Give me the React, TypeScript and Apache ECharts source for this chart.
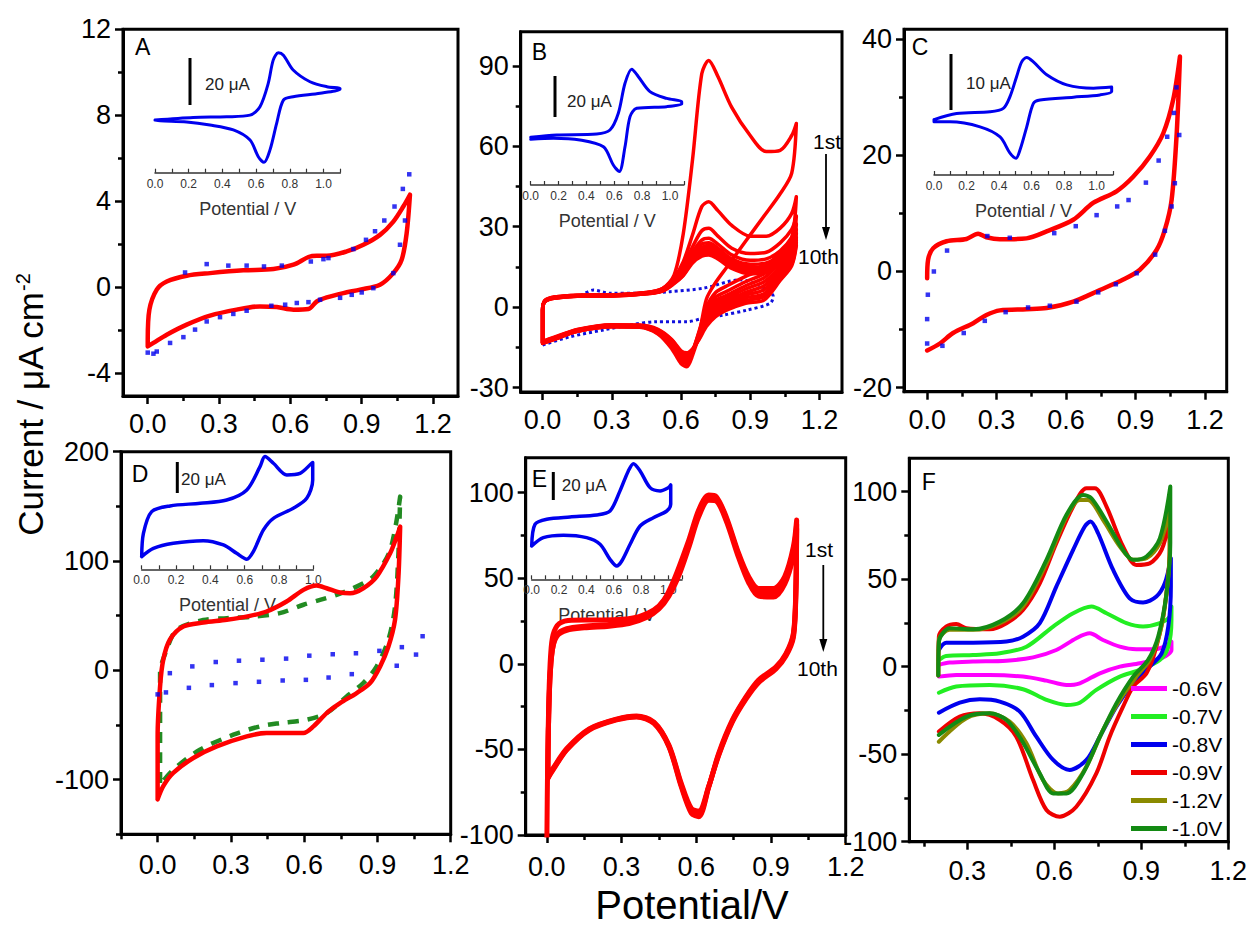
import React, { useEffect, useRef } from "react";
import * as echarts from "echarts";

const FONT = '"Liberation Sans", Arial, Helvetica, sans-serif';

// ---------------- tick values ----------------
const X_TICKS = [0, 0.3, 0.6, 0.9, 1.2];
const X_MINOR = [0.15, 0.45, 0.75, 1.05];
const X_MINOR_D = [-0.15, 0.15, 0.45, 0.75, 1.05];
const X_TICKS_F = [0.3, 0.6, 0.9, 1.2];
const Y_TICKS_A = [-4, 0, 4, 8, 12];
const Y_MINOR_A = [-2, 2, 6, 10];
const Y_TICKS_B = [-30, 0, 30, 60, 90];
const Y_MINOR_B = [-15, 15, 45, 75];
const Y_TICKS_C = [-20, 0, 20, 40];
const Y_MINOR_C = [-10, 10, 30];
const Y_TICKS_D = [-100, 0, 100, 200];
const Y_MINOR_D = [-150, -50, 50, 150];
const Y_TICKS_EF = [-100, -50, 0, 50, 100];
const Y_MINOR_EF = [-75, -25, 25, 75];
const INSET_LABELS = [0, 0.2, 0.4, 0.6, 0.8, 1.0];
const INSET_TICKS = [0, 0.1, 0.2, 0.3, 0.4, 0.5, 0.6, 0.7, 0.8, 0.9, 1.0, 1.1];
const INSET_TICKS_D = [0, 0.1, 0.2, 0.3, 0.4, 0.5, 0.6, 0.7, 0.8, 0.9, 1.0];

// ---------------- panel A ----------------
const A_RED = [[0,-2.45],[0.007,-1.05],[0.038,-0.12],[0.08,0.26],[0.164,0.53],[0.262,0.65],[0.402,0.78],[0.529,0.84],[0.613,1.04],[0.676,1.4],[0.711,1.46],[0.753,1.46],[0.837,1.66],[0.907,1.97],[0.977,2.43],[1.033,3.05],[1.075,3.75],[1.103,4.3],[1.089,2.5],[1.068,1.27],[1.033,0.65],[0.977,0.11],[0.893,-0.12],[0.823,-0.28],[0.753,-0.48],[0.711,-0.67],[0.676,-1.02],[0.613,-1.05],[0.543,-0.93],[0.472,-0.9],[0.374,-1.05],[0.262,-1.33],[0.164,-1.75],[0.08,-2.22],[0.024,-2.6],[0,-2.76],[0,-2.45]];
const A_BLUE = [[0,-3.05],[0.024,-3.1],[0.038,-3.0],[0.094,-2.6],[0.15,-2.33],[0.199,-1.98],[0.248,-1.6],[0.304,-1.4],[0.36,-1.25],[0.416,-1.1],[0.52,-0.87],[0.578,-0.82],[0.627,-0.74],[0.676,-0.7],[0.725,-0.59],[0.809,-0.5],[0.858,-0.36],[0.9,-0.25],[0.949,-0.05],[1.033,0.65],[1.061,1.97],[1.082,3.1],[0.157,0.68],[0.248,1.07],[0.339,1.0],[0.416,1.0],[0.489,0.96],[0.564,1.0],[0.686,1.19],[0.739,1.3],[0.76,1.35],[0.865,1.77],[0.918,2.2],[0.956,2.6],[0.995,3.1],[1.038,3.75],[1.073,4.57],[1.1,5.25]];
const INSET_A = [[0,22.4],[0.227,23.5],[0.425,23.8],[0.564,24.5],[0.623,28.1],[0.672,38],[0.702,48],[0.732,51],[0.762,50],[0.82,43.7],[0.92,38.7],[1.02,36.6],[1.098,35.9],[1.098,35.5],[0.98,33.8],[0.82,32.3],[0.762,30.9],[0.722,21],[0.682,9.6],[0.647,4.4],[0.613,6.8],[0.564,13.9],[0.465,18.2],[0.326,20.3],[0.188,21.6],[0.03,22.1],[0,22.4]];

// ---------------- panel B (10 cycles) ----------------
const B_FWD_V = [0, 0.01, 0.05, 0.15, 0.3, 0.45, 0.52, 0.57, 0.61, 0.65, 0.69, 0.72, 0.76, 0.82, 0.9, 0.97, 1.03, 1.08, 1.1];
const B_FWD_I = [
  [-1, 2.5, 3.8, 4.5, 4.6, 5.5, 7, 12, 27.5, 55, 87, 92, 86, 74.5, 64, 58, 58.5, 64, 68.5],
  [-1, 2.5, 3.8, 4.5, 4.6, 5.5, 7, 11, 17, 27, 37.5, 39.3, 36, 30.5, 26.5, 26.5, 29.5, 35, 41.2],
  [-1, 2.3, 3.6, 4.4, 4.5, 5.4, 6.8, 10.5, 15.5, 22.5, 28.5, 29.4, 26.5, 22, 20, 20.5, 24, 29, 34],
  [-1, 2.3, 3.6, 4.4, 4.5, 5.3, 6.6, 10, 14.5, 20.5, 25, 25.7, 23.5, 19.5, 17.5, 18, 21, 26, 31],
  [-1, 2.2, 3.5, 4.3, 4.4, 5.2, 6.5, 9.8, 14, 19.5, 23.5, 24, 22, 18, 16, 16.5, 19.5, 24, 29],
  [-1, 2.2, 3.5, 4.3, 4.4, 5.2, 6.4, 9.6, 13.5, 18.5, 22.3, 23, 21, 17, 15, 15.5, 18.5, 23, 27.5],
  [-1, 2.1, 3.4, 4.2, 4.3, 5.1, 6.3, 9.4, 13, 18, 21.3, 22, 20, 16, 14, 14.5, 17.5, 22, 26],
  [-1, 2.1, 3.4, 4.2, 4.3, 5.1, 6.2, 9.2, 12.5, 17.5, 20.5, 21, 19, 15.5, 13.5, 14, 17, 21, 25],
  [-1, 2, 3.3, 4.1, 4.2, 5, 6.1, 9, 12, 17, 19.8, 20.2, 18.5, 15, 13, 13.5, 16.5, 20.5, 24],
  [-1, 2, 3.3, 4.1, 4.2, 5, 6, 8.8, 11.8, 16.5, 19, 19.5, 18, 14.5, 12.5, 13, 16, 20, 23],
];
const B_REV_V = [1.1, 1.08, 1.03, 0.96, 0.88, 0.8, 0.75, 0.71, 0.68, 0.65, 0.625, 0.6, 0.56, 0.5, 0.42, 0.3, 0.15, 0.05, 0];
const B_REV_I = [
  [68.5, 50, 42.3, 34, 24.6, 15.1, 9.2, 3, -9.5, -18, -22.2, -21, -15.5, -10, -7.5, -7.3, -9, -12, -13.5],
  [41.2, 26, 20.5, 14.5, 11.5, 8, 5.5, 0, -8.5, -16.5, -21, -20, -15, -9.8, -7.4, -7.3, -9, -12, -13.5],
  [34, 22, 18, 12.5, 9.5, 6, 3.8, -1.2, -9, -16.5, -20.5, -19.5, -14.5, -9.6, -7.3, -7.2, -9, -12, -13.4],
  [31, 20, 16.5, 11, 8, 4.5, 2.5, -2.2, -9.5, -16.5, -20, -19, -14, -9.4, -7.2, -7.1, -8.9, -11.8, -13.3],
  [29, 19, 15, 9.5, 6.8, 3.5, 1.5, -3, -10, -16.5, -19.5, -18.5, -13.6, -9.2, -7.1, -7, -8.8, -11.7, -13.2],
  [27.5, 18, 14, 8, 5.5, 2.5, 0.5, -3.8, -10.3, -16.3, -19, -18, -13.2, -9, -7, -6.9, -8.7, -11.6, -13.1],
  [26, 17, 13, 6.5, 4.5, 1.5, -0.5, -4.6, -10.6, -16.1, -18.5, -17.5, -12.8, -8.8, -6.9, -6.8, -8.6, -11.5, -13],
  [25, 16.5, 12, 5, 3.5, 0.5, -1.5, -5.4, -11, -16, -18, -17, -12.5, -8.6, -6.8, -6.7, -8.5, -11.4, -12.9],
  [24, 16, 11, 4, 2.5, -0.3, -2.5, -6.2, -11.4, -15.8, -17.6, -16.6, -12.2, -8.4, -6.7, -6.6, -8.4, -11.3, -12.8],
  [23, 15.5, 10, 2.7, 1.5, -1, -3.5, -7.2, -11.8, -15.5, -17, -16.2, -12, -8.2, -6.6, -6.5, -8.3, -11.2, -12.7],
];
const B_BLUE = [[0,-14.1],[0.119,-11],[0.263,-8.5],[0.379,-6.6],[0.494,-5.4],[0.625,-5.4],[0.697,-4.1],[0.784,-2.9],[0.885,-1.1],[0.986,1.4],[1.0,4],[0.856,10.2],[0.697,7.1],[0.552,5.8],[0.408,5.2],[0.292,5.2],[0.22,6.4],[0.169,4.5]];
const INSET_B = [[0,23.1],[0.187,24.2],[0.474,24.7],[0.569,26.6],[0.629,34.7],[0.677,49.2],[0.725,56],[0.773,52.4],[0.856,45.2],[0.976,41.9],[1.084,40.3],[1.084,39.2],[0.976,37.9],[0.761,37.1],[0.713,33.1],[0.677,18.5],[0.636,6.5],[0.593,9.7],[0.522,18.5],[0.354,21.8],[0.163,22.6],[0,22.1]];

// ---------------- panel C ----------------
const C_RED = [[0,-1.15],[0.004,2],[0.026,4],[0.084,5.2],[0.17,5.6],[0.22,6.5],[0.256,5.9],[0.314,5.55],[0.429,5.7],[0.516,6.9],[0.631,8.9],[0.717,11.8],[0.818,13.8],[0.89,16.3],[0.962,19.8],[1.02,23.8],[1.063,29.6],[1.092,37],[1.078,23.8],[1.056,12.3],[1.027,7.2],[0.991,3.7],[0.919,0.3],[0.847,-1.4],[0.746,-3.2],[0.631,-5.2],[0.516,-6.3],[0.429,-6.5],[0.314,-6.7],[0.256,-7.5],[0.199,-8.9],[0.112,-10.6],[0.055,-12.4],[0,-13.6]];
const C_BLUE = [[0,-12.4],[0,-8.2],[0.003,-4],[0.029,0],[0.086,3.6],[0.26,6.1],[0.357,5.8],[0.549,6.6],[0.642,7.8],[0.732,9.7],[0.821,11.2],[0.87,12.3],[0.945,15.3],[1.0,19.1],[1.037,23.2],[1.066,27.3],[1.077,31.7],[1.089,23.5],[1.07,15.2],[1.056,11.2],[1.027,7],[0.985,2.9],[0.905,-0.3],[0.815,-2.2],[0.739,-3.6],[0.645,-5.2],[0.53,-5.9],[0.436,-6.2],[0.339,-7],[0.249,-8.5],[0.158,-10.6],[0.066,-12.8]];
const INSET_C = [[0,9.9],[0.139,11],[0.344,11.3],[0.426,11.9],[0.467,14],[0.508,17.6],[0.539,20.2],[0.57,21],[0.611,20.2],[0.693,17.9],[0.816,16.1],[0.98,15.5],[1.092,15.7],[1.092,14.9],[1.02,14.3],[0.857,13.9],[0.652,13.4],[0.611,12.8],[0.57,8.6],[0.529,4.5],[0.504,3],[0.467,3.9],[0.406,6.8],[0.283,8.6],[0.098,9.5],[0,9.5],[0,9.9]];

// ---------------- panel D ----------------
const D_RED = [[0,-118],[0,-60],[0.01,-14.7],[0.023,9.6],[0.05,28],[0.105,40],[0.187,43.7],[0.283,46.2],[0.378,49.8],[0.446,53.8],[0.528,63],[0.597,73.6],[0.651,77.6],[0.692,75.1],[0.747,71.2],[0.788,70.5],[0.842,75.1],[0.897,85.8],[0.952,107],[0.979,122.3],[0.993,131.5],[0.986,85.8],[0.972,46.2],[0.945,21.8],[0.911,3.6],[0.87,-11.6],[0.815,-20.8],[0.747,-30],[0.692,-39.1],[0.638,-51.3],[0.597,-57.4],[0.542,-57.4],[0.446,-57.4],[0.365,-60.4],[0.242,-69.6],[0.146,-80.2],[0.064,-93.9],[0.023,-106],[0,-118]];
const D_GREEN = [[0.01,-103],[0.01,-2.6],[0.037,18.8],[0.078,37],[0.187,46],[0.283,47.7],[0.392,49.2],[0.5,52.3],[0.597,60],[0.665,64.4],[0.733,69],[0.801,75.1],[0.883,85.8],[0.952,110],[0.993,158.9],[0.986,107],[0.972,58.3],[0.945,28],[0.897,3.6],[0.842,-11.6],[0.774,-23.9],[0.692,-39.1],[0.61,-45.2],[0.5,-48.3],[0.419,-51.3],[0.31,-58.9],[0.173,-72.6],[0.064,-90.9],[0.016,-103]];
const D_BLUE = [[0,-22],[0.05,-2.6],[0.142,3.6],[0.238,7.6],[0.333,8.8],[0.429,9.7],[0.526,10.7],[0.621,13.4],[0.717,14.7],[0.812,15.6],[0.908,17.8],[1.0,21.2],[1.085,31.2],[1.058,14.4],[0.979,4.2],[0.795,-3.5],[0.7,-6.6],[0.607,-8.7],[0.512,-9.3],[0.415,-10.5],[0.319,-11.7],[0.222,-13.5],[0.128,-16],[0.034,-20.2]];
const INSET_D = [[0,8.2],[0.01,23.2],[0.058,37.2],[0.165,40.9],[0.34,42.6],[0.495,44.7],[0.612,51.2],[0.689,66.2],[0.718,72.7],[0.767,68.4],[0.845,60.9],[0.922,61.9],[0.99,68.4],[0.996,68.8],[0.996,57.6],[0.961,45.8],[0.883,39.4],[0.767,32.9],[0.709,25.4],[0.65,11.4],[0.612,6.5],[0.553,10.3],[0.476,15.7],[0.359,18.5],[0.184,16.8],[0.068,13.5],[0,8.2]];

// ---------------- panel E ----------------
const E_CYCLE1 = [[0,-104],[0.003,-60],[0.008,-20],[0.015,5],[0.025,17],[0.05,23.5],[0.1,25.5],[0.2,25.6],[0.3,26],[0.37,27.6],[0.43,31.5],[0.47,37.3],[0.51,49],[0.57,72.3],[0.61,90],[0.65,98.6],[0.68,97.7],[0.72,86],[0.77,64.6],[0.81,51],[0.85,44],[0.91,44],[0.955,51],[0.99,68.5],[1.003,84],[1.0,45],[0.99,18],[0.96,6],[0.92,-1.7],[0.85,-9.5],[0.8,-19.2],[0.745,-32.8],[0.69,-52.3],[0.65,-72],[0.61,-89.3],[0.58,-87.3],[0.54,-72],[0.49,-48.4],[0.43,-34.8],[0.36,-31],[0.28,-32.8],[0.17,-38.7],[0.08,-50.3],[0.025,-62],[0.004,-67]];
const E_CYCLE5 = [[0.004,-66.5],[0.006,-40],[0.012,-10],[0.022,8],[0.04,17],[0.08,20.5],[0.15,22],[0.25,23],[0.33,24.5],[0.4,28],[0.45,33.5],[0.49,41],[0.53,53],[0.57,70],[0.61,88],[0.65,97],[0.68,96.5],[0.72,85],[0.77,63.5],[0.81,49.5],[0.85,41.5],[0.91,41.5],[0.955,49],[0.99,66],[1.003,81.5],[1.0,43],[0.99,16.8],[0.96,5.2],[0.92,-2.3],[0.85,-10.2],[0.8,-19.8],[0.745,-33.4],[0.69,-53],[0.65,-71.8],[0.61,-87.6],[0.58,-86],[0.54,-71],[0.49,-48],[0.43,-34.4],[0.36,-30.8],[0.28,-32.5],[0.17,-38.3],[0.08,-50],[0.025,-61.5],[0.004,-66.5]];
const E_CYCLE10 = [[0.004,-67],[0.006,-40],[0.012,-10],[0.022,8],[0.04,16],[0.08,19.5],[0.15,21],[0.25,22],[0.33,23.5],[0.4,27],[0.45,32],[0.49,39.5],[0.53,51.5],[0.57,68],[0.61,86],[0.65,95.5],[0.68,95],[0.72,83.5],[0.77,62],[0.81,47.5],[0.85,39.5],[0.91,39],[0.955,46.5],[0.99,63],[1.003,79],[1.0,41],[0.99,15.5],[0.96,4.5],[0.92,-3],[0.85,-11],[0.8,-20.5],[0.745,-34],[0.69,-53.5],[0.65,-71.5],[0.61,-86],[0.58,-84.5],[0.54,-70],[0.49,-47.5],[0.43,-34],[0.36,-30.5],[0.28,-32.3],[0.17,-38],[0.08,-49.5],[0.025,-61],[0.004,-66]];
const INSET_E = [[0,23.5],[0.024,38.8],[0.11,42.4],[0.28,44],[0.476,45.4],[0.573,48.2],[0.646,62.4],[0.707,76.5],[0.744,81.6],[0.793,76.5],[0.866,64.7],[0.939,62.4],[1.0,64.7],[1.017,66.6],[1.017,52.9],[0.988,48.2],[0.89,43.5],[0.793,37.6],[0.72,24.7],[0.659,12.9],[0.622,9.4],[0.573,14.1],[0.5,24.7],[0.402,29.4],[0.232,31.1],[0.085,29.4],[0,23.5]];

// ---------------- panel F ----------------
const F_NAMES = ["-0.6V", "-0.7V", "-0.8V", "-0.9V", "-1.2V", "-1.0V"];
const F_COLORS = ["#ff00ff", "#22ee22", "#0000ee", "#ee0000", "#8a8a00", "#138a13"];
const F_M06 = [[0.202,1],[0.239,2.3],[0.32,2.9],[0.435,3.4],[0.527,5.3],[0.607,9.5],[0.676,16.2],[0.722,19],[0.768,15.2],[0.826,11.4],[0.883,9.9],[0.941,9.9],[0.981,11.4],[1.004,14.3],[1.004,9.5],[0.975,5.3],[0.895,1.9],[0.826,0],[0.757,-3.8],[0.688,-9.5],[0.642,-10.5],[0.573,-8],[0.492,-5.7],[0.377,-4.8],[0.262,-4.8],[0.202,-5.7]];
const F_M07 = [[0.202,3.8],[0.227,6.1],[0.32,6.7],[0.412,7.6],[0.504,11.4],[0.596,22.9],[0.665,30.5],[0.728,34.3],[0.78,30.5],[0.849,24.8],[0.906,22.9],[0.964,24.8],[0.998,28.6],[1.004,34.3],[1.004,26.7],[0.993,11.4],[0.964,3.8],[0.895,-1.9],[0.826,-5.7],[0.745,-13.3],[0.688,-20.6],[0.642,-21.9],[0.573,-19],[0.492,-12.9],[0.377,-10.5],[0.262,-11.4],[0.202,-14.9]];
const F_M08 = [[0.202,9.5],[0.227,13.7],[0.32,13.7],[0.435,14.3],[0.492,17.1],[0.55,24.8],[0.607,45.7],[0.665,66.7],[0.705,80],[0.725,82.9],[0.751,76.2],[0.803,55.2],[0.86,39],[0.906,36.6],[0.952,40],[0.981,47.6],[1.002,61.9],[1.002,45.7],[0.993,22.9],[0.97,7.6],[0.929,0],[0.872,-9.5],[0.814,-22.9],[0.757,-40],[0.711,-53.3],[0.653,-59],[0.596,-53.3],[0.538,-40],[0.481,-25.7],[0.412,-20],[0.343,-18.7],[0.274,-20.6],[0.202,-26.3]];
const F_M09 = [[0.2,-5],[0.202,17.1],[0.227,22.9],[0.262,24.4],[0.297,21.9],[0.377,21.3],[0.435,24.8],[0.492,32.4],[0.55,47.6],[0.607,70.5],[0.665,91.4],[0.711,101.9],[0.74,101.9],[0.78,91.4],[0.837,68.6],[0.883,58.1],[0.929,59],[0.97,66.7],[0.998,83.8],[0.998,68.6],[0.981,34.3],[0.952,11.4],[0.918,-3.8],[0.872,-11.4],[0.837,-22.9],[0.791,-40],[0.745,-61],[0.676,-80],[0.619,-85.7],[0.573,-81.9],[0.527,-64.8],[0.469,-40],[0.412,-30.5],[0.343,-26.7],[0.274,-28.6],[0.202,-37.1]];
const F_M12 = [[0.2,-5],[0.202,15.2],[0.239,21],[0.32,21],[0.412,24.8],[0.492,34.3],[0.573,59],[0.642,85.7],[0.688,95.2],[0.716,95.2],[0.768,83.8],[0.826,68.6],[0.872,61],[0.918,61.9],[0.964,70.5],[0.998,89.5],[0.998,68.6],[0.987,41.9],[0.964,19],[0.929,3.8],[0.883,-5.7],[0.826,-19],[0.768,-36.2],[0.711,-57.1],[0.653,-70.5],[0.613,-72.4],[0.561,-64.8],[0.504,-43.8],[0.446,-31.4],[0.377,-26.7],[0.297,-29.5],[0.202,-42.9]];
const F_M10 = [[0.2,-5],[0.202,14.3],[0.239,21.9],[0.32,21.3],[0.412,25.7],[0.492,36.2],[0.573,61],[0.642,86.7],[0.699,98.1],[0.728,96.2],[0.78,82.9],[0.837,66.7],[0.872,61],[0.918,62.9],[0.964,73.3],[1.0,102.9],[1.0,70.5],[0.987,41.9],[0.958,17.1],[0.923,3.8],[0.872,-5.7],[0.814,-21],[0.757,-40],[0.699,-61],[0.642,-72.4],[0.596,-72.4],[0.55,-61],[0.487,-41.9],[0.435,-30.5],[0.377,-26.7],[0.297,-28.6],[0.202,-39]];
const F_SERIES = [F_M06, F_M07, F_M08, F_M09, F_M12, F_M10];

// ---------------- option builder ----------------
function buildOption() {
  const grids: any[] = [];
  const xAxes: any[] = [];
  const yAxes: any[] = [];
  const series: any[] = [];

  const fmt1 = (v: number) => v.toFixed(1);
  const fmt0 = (v: number) => String(v);

  function addPanel(p: any) {
    const g = grids.length;
    grids.push({
      left: p.left, top: p.top, width: p.right - p.left, height: p.bottom - p.top,
      show: true, borderColor: "#000", borderWidth: 3, backgroundColor: "transparent",
    });
    const xi = xAxes.length;
    xAxes.push({
      type: "value", gridIndex: g, position: "bottom", min: p.xMin, max: p.xMax,
      axisLine: { show: true, onZero: false, lineStyle: { color: "#000", width: 3 } },
      axisTick: { show: true, inside: false, length: 8, customValues: p.xMajor, lineStyle: { color: "#000", width: 2.5 } },
      axisLabel: { show: true, customValues: p.xMajor, formatter: fmt1, fontSize: 27, lineHeight: 22, fontFamily: FONT, color: "#000", margin: p.xMargin },
      splitLine: { show: false },
    });
    xAxes.push({
      type: "value", gridIndex: g, position: "bottom", min: p.xMin, max: p.xMax,
      axisLine: { show: false, onZero: false },
      axisTick: { show: true, inside: false, length: 5, customValues: p.xMinor, lineStyle: { color: "#000", width: 2.5 } },
      axisLabel: { show: false, customValues: p.xMinor },
      splitLine: { show: false },
    });
    const yi = yAxes.length;
    yAxes.push({
      type: "value", gridIndex: g, position: "left", min: p.yMin, max: p.yMax,
      axisLine: { show: true, onZero: false, lineStyle: { color: "#000", width: 3 } },
      axisTick: { show: true, inside: false, length: 8, customValues: p.yMajor, lineStyle: { color: "#000", width: 2.5 } },
      axisLabel: { show: true, customValues: p.yMajor, formatter: fmt0, fontSize: 27, lineHeight: 20, fontFamily: FONT, color: "#000", margin: 12 },
      splitLine: { show: false },
    });
    yAxes.push({
      type: "value", gridIndex: g, position: "left", min: p.yMin, max: p.yMax,
      axisLine: { show: false, onZero: false },
      axisTick: { show: true, inside: false, length: 5, customValues: p.yMinor, lineStyle: { color: "#000", width: 2.5 } },
      axisLabel: { show: false, customValues: p.yMinor },
      splitLine: { show: false },
    });
    return { xi, yi };
  }

  function addInset(p: any) {
    const g = grids.length;
    const h = p.yMax * p.pxPerUnit;
    grids.push({ left: p.x0, top: p.axisY - h, width: p.xMax * p.pxPerV, height: h, show: false });
    const xi = xAxes.length;
    xAxes.push({
      type: "value", gridIndex: g, position: "bottom", min: 0, max: p.xMax,
      axisLine: { show: true, onZero: false, lineStyle: { color: "#333", width: 1.5 } },
      axisTick: { show: true, inside: true, length: 4, customValues: p.ticks, lineStyle: { color: "#333", width: 1.2 } },
      axisLabel: { show: true, customValues: INSET_LABELS, formatter: fmt1, fontSize: 12, fontFamily: FONT, color: "#333", margin: 5 },
      name: "Potential / V", nameLocation: "middle", nameGap: 27,
      nameTextStyle: { fontSize: 18, fontFamily: FONT, color: "#333" },
      splitLine: { show: false },
    });
    const yi = yAxes.length;
    yAxes.push({ type: "value", gridIndex: g, show: false, min: 0, max: p.yMax });
    return { xi, yi };
  }

  const line = (name: string, data: any, ax: any, color: string, width: number, extra: any = {}) => ({
    type: "line", name, data, xAxisIndex: ax.xi, yAxisIndex: ax.yi,
    showSymbol: false, symbol: "none", smooth: 0.3, color,
    lineStyle: { color, width, cap: "round", join: "round", ...(extra.lineStyle || {}) },
    itemStyle: { color }, z: extra.z || 3, animation: false,
  });
  const dots = (name: string, data: any, ax: any) => ({
    type: "scatter", name, data, xAxisIndex: ax.xi, yAxisIndex: ax.yi,
    symbol: "rect", symbolSize: 4.5, itemStyle: { color: "#0000ee" }, z: 4, animation: false,
  });

  // ---- A
  const A = addPanel({ left: 123, top: 29.3, right: 458, bottom: 396, xMin: -0.104, xMax: 1.305, yMin: -5.07, yMax: 12,
    xMajor: X_TICKS, xMinor: X_MINOR, yMajor: Y_TICKS_A, yMinor: Y_MINOR_A, xMargin: 17 });
  series.push(line("A-red", A_RED, A, "#ff0000", 4.5));
  series.push(dots("A-blue", A_BLUE, A));
  const Ai = addInset({ x0: 155, axisY: 172.7, pxPerV: 168.5, pxPerUnit: 2.35, xMax: 1.1, yMax: 56, ticks: INSET_TICKS });
  series.push(line("A-inset", INSET_A, Ai, "#0000ee", 3));

  // ---- B
  const B = addPanel({ left: 520.7, top: 31.7, right: 842, bottom: 392, xMin: -0.095, xMax: 1.298, yMin: -31.6, yMax: 102.7,
    xMajor: X_TICKS, xMinor: X_MINOR, yMajor: Y_TICKS_B, yMinor: Y_MINOR_B, xMargin: 17 });
  series.push(line("B-blue", B_BLUE, B, "#1010dd", 3, { lineStyle: { type: [3, 3], cap: "butt" }, z: 2 }));
  B_FWD_I.forEach((fwd, c) => {
    const data = [[0, -13.3]]
      .concat(B_FWD_V.map((v, i) => [v, fwd[i]]))
      .concat(B_REV_V.map((v, i) => [v, B_REV_I[c][i]]));
    series.push(line("B-cycle" + (c + 1), data, B, "#ff0000", 3.5));
  });
  const Bi = addInset({ x0: 530.7, axisY: 185, pxPerV: 139.3, pxPerUnit: 2.067, xMax: 1.1, yMax: 60, ticks: INSET_TICKS });
  series.push(line("B-inset", INSET_B, Bi, "#0000ee", 3));

  // ---- C
  const C = addPanel({ left: 904, top: 29.3, right: 1226.7, bottom: 391.7, xMin: -0.1, xMax: 1.294, yMin: -20.7, yMax: 41.7,
    xMajor: X_TICKS, xMinor: X_MINOR, yMajor: Y_TICKS_C, yMinor: Y_MINOR_C, xMargin: 17 });
  series.push(line("C-red", C_RED, C, "#ff0000", 4.5));
  series.push(dots("C-blue", C_BLUE, C));
  const Ci = addInset({ x0: 934, axisY: 175, pxPerV: 162.7, pxPerUnit: 5.6, xMax: 1.1, yMax: 23, ticks: INSET_TICKS });
  series.push(line("C-inset", INSET_C, Ci, "#0000ee", 3));

  // ---- D
  const D = addPanel({ left: 121, top: 451.7, right: 450.7, bottom: 834.3, xMin: -0.15, xMax: 1.2, yMin: -150, yMax: 200,
    xMajor: X_TICKS, xMinor: X_MINOR_D, yMajor: Y_TICKS_D, yMinor: Y_MINOR_D, xMargin: 20 });
  series.push(line("D-green", D_GREEN, D, "#228b22", 4.5, { lineStyle: { type: [11, 9], cap: "butt" } }));
  series.push(line("D-red", D_RED, D, "#ff0000", 4.5));
  series.push(dots("D-blue", D_BLUE, D));
  const Di = addInset({ x0: 141.7, axisY: 569.3, pxPerV: 171.7, pxPerUnit: 1.55, xMax: 1.0, yMax: 75, ticks: INSET_TICKS_D });
  series.push(line("D-inset", INSET_D, Di, "#0000ee", 3.5));

  // ---- E
  const E = addPanel({ left: 525.7, top: 457.7, right: 845.7, bottom: 835, xMin: -0.085, xMax: 1.2, yMin: -100, yMax: 120.4,
    xMajor: X_TICKS, xMinor: X_MINOR, yMajor: Y_TICKS_EF, yMinor: Y_MINOR_EF, xMargin: 21 });
  series.push(line("E-cycle1", E_CYCLE1, E, "#ff0000", 5));
  series.push(line("E-cycle5", E_CYCLE5, E, "#ff0000", 5));
  series.push(line("E-cycle10", E_CYCLE10, E, "#ff0000", 5));
  const Ei = addInset({ x0: 531.7, axisY: 579.3, pxPerV: 136.7, pxPerUnit: 1.417, xMax: 1.1, yMax: 85, ticks: INSET_TICKS });
  series.push(line("E-inset", INSET_E, Ei, "#0000ee", 3.5));

  // ---- F
  const F = addPanel({ left: 909.3, top: 458.3, right: 1228.3, bottom: 841.7, xMin: 0.1, xMax: 1.2, yMin: -100, yMax: 119,
    xMajor: X_TICKS_F, xMinor: X_MINOR, yMajor: Y_TICKS_EF, yMinor: Y_MINOR_EF, xMargin: 18 });
  F_SERIES.forEach((d, i) => series.push(line(F_NAMES[i], d, F, F_COLORS[i], 4)));

  const T = (text: string, x: number, y: number, size: number, extra: any = {}) => ({
    type: "text", x, y, z: 100,
    style: {
      text, fill: extra.fill || "#000", font: `${size}px ${FONT}`, fontSize: size, fontFamily: FONT,
      textAlign: extra.align || "left", align: extra.align || "left",
      textVerticalAlign: "middle", verticalAlign: "middle",
    },
  });
  const L = (x1: number, y1: number, x2: number, y2: number, w = 3) => ({
    type: "line", z: 100, shape: { x1, y1, x2, y2 }, style: { stroke: "#000", lineWidth: w },
  });
  const head = (x: number, y: number) => ({
    type: "polygon", z: 100, shape: { points: [[x - 4, y - 13], [x + 4, y - 13], [x, y]] }, style: { fill: "#000" },
  });

  const graphic = [
    T("A", 135, 47, 23), T("B", 531.7, 52, 23), T("C", 911.7, 46.5, 23),
    T("D", 131.7, 474, 23), T("E", 531.7, 479, 23), T("F", 921.7, 482, 23),
    L(190, 58, 190, 105), T("20 μA", 205, 84, 17, { fill: "#222" }),
    L(555, 76, 555, 117), T("20 μA", 567, 101, 17, { fill: "#222" }),
    L(951, 54, 951, 110), T("10 μA", 966, 83, 17, { fill: "#222" }),
    L(177.3, 462, 177.3, 493), T("20 μA", 181, 479, 17, { fill: "#222" }),
    L(553.3, 472, 553.3, 500), T("20 μA", 561.7, 485, 17, { fill: "#222" }),
    T("1st", 813, 141, 21), L(826, 154, 826, 228, 1.8), head(826, 240), T("10th", 798, 256, 21),
    T("1st", 805, 549, 21), L(823.3, 565, 823.3, 640, 1.8), head(823.3, 652), T("10th", 797, 668, 21),
    T("Potential/V", 692, 904.5, 40, { align: "center" }),
    {
      type: "text", x: 30, y: 405, rotation: Math.PI / 2, z: 100,
      style: {
        text: "{a|Current / μA cm}{b|-2}",
        textAlign: "center", align: "center", textVerticalAlign: "middle", verticalAlign: "middle",
        rich: {
          a: { fontSize: 35, fontFamily: FONT, fill: "#000", color: "#000" },
          b: { fontSize: 20, fontFamily: FONT, fill: "#000", color: "#000", verticalAlign: "top" },
        },
      },
    },
  ];

  return {
    animation: false,
    backgroundColor: "#fff",
    grid: grids,
    xAxis: xAxes,
    yAxis: yAxes,
    series,
    legend: {
      data: F_NAMES, orient: "vertical", left: 1131, top: 678, itemWidth: 36, itemHeight: 5, itemGap: 7,
      icon: "rect", selectedMode: false, padding: 0,
      textStyle: { fontSize: 21, fontFamily: FONT, color: "#000" },
    },
    graphic,
  };
}

export default function App() {
  const ref = useRef<HTMLDivElement>(null);
  useEffect(() => {
    if (!ref.current) return;
    const chart = echarts.init(ref.current, null, { renderer: "svg" });
    chart.setOption(buildOption() as any);
    return () => chart.dispose();
  }, []);
  return (
    <div
      ref={ref}
      style={{ position: "fixed", left: 0, top: 0, width: 1256, height: 925, background: "#fff" }}
    />
  );
}
